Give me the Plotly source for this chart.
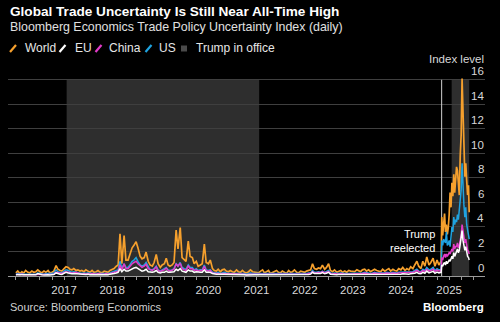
import pandas as pd
import plotly.graph_objects as go

# ---------------- data ----------------
# semi-monthly sampling (1st & 15th) Jan 2016 - Oct 2024, then weekly
semi_dates = list(pd.date_range("2016-01-01", "2024-10-15", freq="SMS"))
weekly_dates = ["2024-11-01", "2024-11-06", "2024-11-13", "2024-11-20", "2024-11-27",
                "2024-12-04", "2024-12-11", "2024-12-18", "2024-12-25",
                "2025-01-01", "2025-01-08", "2025-01-15", "2025-01-22", "2025-01-29",
                "2025-02-05", "2025-02-12", "2025-02-19", "2025-02-26",
                "2025-03-05", "2025-03-12", "2025-03-19", "2025-03-26",
                "2025-04-02", "2025-04-09", "2025-04-16", "2025-04-23", "2025-04-30",
                "2025-05-07", "2025-05-14", "2025-05-21", "2025-05-28", "2025-06-02"]
dates = semi_dates + list(pd.to_datetime(weekly_dates))

world = [
    0.25, 0.4, 0.2, 0.35, 0.25, 0.45, 0.3, 0.25, 0.4, 0.3, 0.35, 0.5, 0.35, 0.25, 0.4, 0.3, 0.45, 0.25, 0.3, 0.4, 0.85, 0.55, 0.45, 0.4,  # 2016
    0.6, 0.75, 0.7, 0.55, 0.5, 0.6, 0.45, 0.5, 0.4, 0.45, 0.35, 0.5, 0.4, 0.3, 0.45, 0.3, 0.35, 0.45, 0.3, 0.25, 0.4, 0.35, 0.3, 0.45,  # 2017
    0.5, 0.6, 0.8, 0.9, 3.45, 1.0, 3.3, 1.3, 1.3, 1.7, 2.3, 2.5, 2.8, 2.3, 1.6, 1.4, 1.5, 1.95, 1.2, 0.9, 0.8, 1.1, 1.75, 1.0,  # 2018
    0.7, 0.9, 1.0, 1.45, 0.9, 0.8, 0.9, 1.1, 3.75, 2.2, 3.95, 1.5, 1.3, 1.2, 2.85, 1.6, 1.5, 1.0, 1.2, 0.8, 0.9, 1.0, 2.6, 1.1,  # 2019
    1.0, 1.3, 0.6, 0.45, 0.4, 0.55, 0.35, 0.5, 0.55, 0.4, 0.35, 0.45, 0.35, 0.3, 0.5, 0.35, 0.3, 0.45, 0.3, 0.25, 0.35, 0.5, 0.35, 0.3,  # 2020
    0.3, 0.25, 0.4, 0.5, 0.25, 0.35, 0.45, 0.2, 0.3, 0.35, 0.45, 0.3, 0.25, 0.4, 0.3, 0.2, 0.45, 0.3, 0.35, 0.5, 0.3, 0.25, 0.4, 0.35,  # 2021
    0.3, 0.4, 0.45, 0.5, 1.0, 0.6, 0.55, 0.65, 0.6, 0.88, 0.55, 0.7, 1.0, 0.45, 0.35, 0.5, 0.3, 0.4, 0.45, 0.3, 0.4, 0.3, 0.45, 0.4,  # 2022
    0.4, 0.35, 0.5, 0.4, 0.35, 0.5, 0.55, 0.4, 0.5, 0.35, 0.45, 0.55, 0.45, 0.4, 0.35, 0.55, 0.4, 0.5, 0.6, 0.4, 0.55, 0.45, 0.4, 0.6,  # 2023
    0.5, 0.7, 0.45, 0.6, 0.5, 0.75, 0.6, 0.9, 1.2, 0.8, 0.6, 1.2, 0.8, 1.55, 0.9, 1.1, 1.45, 0.8, 1.3, 0.9,  # 2024 Jan-Oct
    1.2, 4.8, 3.3, 4.2, 5.1, 3.6, 4.2, 3.4, 3.9, 5.0, 6.8, 5.6, 7.6, 6.5, 8.3, 6.8,
    8.2, 8.9, 8.6, 7.0, 6.6, 9.8, 11.5, 16.1, 11.7, 10.8, 8.1, 9.2, 7.8, 6.6, 7.4, 5.2,  # weekly
]
us = [
    0.15, 0.2, 0.15, 0.2, 0.15, 0.15, 0.2, 0.15, 0.2, 0.2, 0.15, 0.25, 0.2, 0.15, 0.15, 0.2, 0.2, 0.15, 0.2, 0.25, 0.5, 0.35, 0.3, 0.25,
    0.4, 0.5, 0.45, 0.35, 0.3, 0.35, 0.3, 0.3, 0.25, 0.2, 0.25, 0.2, 0.25, 0.2, 0.2, 0.2, 0.2, 0.2, 0.2, 0.15, 0.2, 0.2, 0.2, 0.25,
    0.3, 0.35, 0.45, 0.5, 1.2, 0.6, 1.0, 0.7, 0.7, 0.9, 1.2, 1.3, 1.5, 1.2, 0.9, 0.8, 0.9, 1.1, 0.7, 0.5, 0.5, 0.6, 0.8, 0.5,
    0.4, 0.5, 0.55, 0.7, 0.5, 0.45, 0.5, 0.6, 1.0, 0.8, 1.1, 0.7, 0.6, 0.55, 0.9, 0.7, 0.7, 0.5, 0.6, 0.45, 0.5, 0.5, 0.9, 0.5,
    0.45, 0.5, 0.3, 0.25, 0.25, 0.3, 0.2, 0.25, 0.3, 0.25, 0.2, 0.2, 0.2, 0.2, 0.25, 0.2, 0.2, 0.2, 0.2, 0.15, 0.2, 0.25, 0.2, 0.2,
    0.2, 0.15, 0.2, 0.2, 0.15, 0.2, 0.2, 0.2, 0.15, 0.2, 0.2, 0.2, 0.15, 0.2, 0.2, 0.15, 0.2, 0.2, 0.2, 0.2, 0.2, 0.15, 0.2, 0.2,
    0.2, 0.2, 0.25, 0.25, 0.45, 0.3, 0.3, 0.35, 0.3, 0.4, 0.3, 0.35, 0.45, 0.25, 0.2, 0.25, 0.2, 0.2, 0.25, 0.2, 0.2, 0.2, 0.2, 0.25,
    0.25, 0.2, 0.25, 0.25, 0.2, 0.25, 0.3, 0.25, 0.25, 0.2, 0.25, 0.3, 0.25, 0.25, 0.2, 0.25, 0.25, 0.3, 0.25, 0.25, 0.3, 0.25, 0.25, 0.3,
    0.3, 0.35, 0.3, 0.3, 0.3, 0.35, 0.35, 0.45, 0.55, 0.4, 0.35, 0.55, 0.45, 0.7, 0.5, 0.55, 0.7, 0.45, 0.6, 0.5,
    0.5, 2.9, 2.5, 3.0, 2.8, 2.7, 3.6, 2.5, 2.6, 2.9, 2.4, 3.5, 4.0, 3.6, 4.8, 4.2,
    4.6, 4.4, 5.0, 4.6, 5.6, 6.2, 7.0, 9.2, 7.0, 5.8, 4.8, 5.6, 4.2, 3.7, 3.4, 3.0,
]
china = [
    0.1, 0.15, 0.1, 0.15, 0.1, 0.1, 0.15, 0.1, 0.15, 0.15, 0.1, 0.15, 0.15, 0.1, 0.1, 0.15, 0.15, 0.1, 0.15, 0.15, 0.3, 0.25, 0.2, 0.2,
    0.3, 0.35, 0.3, 0.25, 0.25, 0.25, 0.3, 0.25, 0.2, 0.15, 0.2, 0.15, 0.2, 0.15, 0.2, 0.15, 0.15, 0.2, 0.15, 0.15, 0.15, 0.2, 0.15, 0.2,
    0.25, 0.3, 0.35, 0.4, 0.9, 0.5, 1.0, 0.6, 0.6, 0.8, 1.0, 1.1, 1.2, 1.0, 0.8, 0.7, 0.8, 0.95, 0.6, 0.5, 0.45, 0.55, 0.75, 0.45,
    0.35, 0.45, 0.5, 0.65, 0.45, 0.4, 0.45, 0.55, 1.0, 0.8, 1.05, 0.6, 0.5, 0.45, 0.85, 0.6, 0.6, 0.45, 0.5, 0.4, 0.45, 0.45, 0.8, 0.45,
    0.4, 0.45, 0.25, 0.2, 0.2, 0.2, 0.15, 0.2, 0.2, 0.2, 0.15, 0.15, 0.15, 0.15, 0.2, 0.15, 0.15, 0.15, 0.15, 0.1, 0.15, 0.15, 0.15, 0.15,
    0.15, 0.1, 0.15, 0.15, 0.1, 0.15, 0.15, 0.15, 0.1, 0.15, 0.15, 0.15, 0.1, 0.15, 0.15, 0.1, 0.15, 0.15, 0.15, 0.15, 0.15, 0.1, 0.15, 0.15,
    0.15, 0.15, 0.2, 0.2, 0.35, 0.25, 0.25, 0.3, 0.25, 0.35, 0.25, 0.3, 0.35, 0.2, 0.15, 0.2, 0.15, 0.15, 0.2, 0.15, 0.15, 0.15, 0.15, 0.2,
    0.2, 0.15, 0.2, 0.2, 0.15, 0.2, 0.25, 0.2, 0.2, 0.15, 0.2, 0.25, 0.2, 0.2, 0.15, 0.2, 0.2, 0.25, 0.2, 0.2, 0.25, 0.2, 0.2, 0.25,
    0.25, 0.3, 0.25, 0.25, 0.25, 0.3, 0.3, 0.35, 0.45, 0.35, 0.3, 0.45, 0.35, 0.55, 0.4, 0.45, 0.55, 0.35, 0.5, 0.4,
    0.4, 1.5, 1.3, 1.6, 1.8, 1.5, 1.8, 1.6, 1.7, 1.9, 1.8, 2.0, 2.2, 2.0, 2.6, 2.2,
    2.4, 2.4, 2.7, 2.3, 2.5, 2.9, 3.3, 4.2, 3.6, 3.2, 2.7, 3.0, 2.4, 2.1, 2.0, 1.8,
]
eu = [
    0.1, 0.1, 0.08, 0.1, 0.1, 0.08, 0.1, 0.1, 0.1, 0.12, 0.1, 0.2, 0.12, 0.1, 0.08, 0.1, 0.1, 0.08, 0.1, 0.12, 0.25, 0.18, 0.15, 0.12,
    0.25, 0.3, 0.25, 0.2, 0.18, 0.2, 0.18, 0.18, 0.15, 0.12, 0.15, 0.12, 0.15, 0.1, 0.12, 0.1, 0.1, 0.12, 0.1, 0.1, 0.1, 0.12, 0.1, 0.15,
    0.15, 0.2, 0.25, 0.3, 0.6, 0.35, 0.55, 0.4, 0.4, 0.5, 0.6, 0.65, 0.7, 0.6, 0.45, 0.4, 0.45, 0.55, 0.35, 0.3, 0.3, 0.35, 0.45, 0.3,
    0.25, 0.3, 0.3, 0.4, 0.3, 0.3, 0.3, 0.35, 0.55, 0.45, 0.6, 0.4, 0.35, 0.3, 0.5, 0.4, 0.4, 0.3, 0.35, 0.3, 0.3, 0.3, 0.5, 0.3,
    0.3, 0.3, 0.2, 0.15, 0.15, 0.15, 0.12, 0.15, 0.15, 0.15, 0.12, 0.1, 0.12, 0.1, 0.15, 0.12, 0.1, 0.12, 0.1, 0.08, 0.1, 0.12, 0.1, 0.1,
    0.1, 0.08, 0.1, 0.1, 0.08, 0.1, 0.1, 0.1, 0.08, 0.1, 0.1, 0.1, 0.08, 0.1, 0.1, 0.08, 0.1, 0.1, 0.1, 0.1, 0.1, 0.08, 0.1, 0.1,
    0.1, 0.1, 0.12, 0.15, 0.3, 0.2, 0.18, 0.22, 0.2, 0.28, 0.18, 0.22, 0.3, 0.15, 0.12, 0.12, 0.1, 0.12, 0.12, 0.1, 0.1, 0.1, 0.1, 0.12,
    0.12, 0.1, 0.12, 0.12, 0.1, 0.12, 0.15, 0.12, 0.12, 0.1, 0.12, 0.15, 0.12, 0.12, 0.1, 0.12, 0.12, 0.15, 0.12, 0.12, 0.15, 0.12, 0.12, 0.15,
    0.15, 0.18, 0.15, 0.15, 0.15, 0.18, 0.18, 0.22, 0.3, 0.2, 0.18, 0.3, 0.22, 0.4, 0.25, 0.3, 0.38, 0.22, 0.32, 0.25,
    0.3, 0.9, 0.8, 1.0, 1.1, 0.9, 1.2, 1.0, 1.1, 1.3, 1.2, 1.5, 1.6, 1.4, 1.9, 1.6,
    1.8, 2.0, 2.2, 1.9, 2.1, 2.6, 3.0, 3.7, 2.9, 2.5, 2.1, 2.4, 1.9, 1.6, 1.5, 1.3,
]
for s in (world, us, china, eu):
    assert len(s) == len(dates), (len(s), len(dates))

trump_terms = [("2017-01-20", "2021-01-20"), ("2025-01-20", "2025-06-02")]
reelection_date = "2024-11-05"
year_ticks = ["2017", "2018", "2019", "2020", "2021", "2022", "2023", "2024", "2025"]
y_ticks = [0, 2, 4, 6, 8, 10, 12, 14, 16]
quarter_ticks = list(pd.date_range("2016-01-01", "2025-07-01", freq="QS"))

series_names = ["World", "EU", "China", "US"]
series_colors = ["#f6a02d", "#ffffff", "#e23bc8", "#1fa3e0"]

# ---------------- figure ----------------
W, H = 500, 322
L, R, T, B = 8, 15, 70, 46
PW, PH = W - L - R, H - T - B


def px_x(px):
    return (px - L) / PW


def px_y(py):
    return (H - B - py) / PH


BG = "#000000"
FONT = "Liberation Sans, Arial, sans-serif"

fig = go.Figure()
# draw order: World behind, then US, China, EU on top
draw_order = [("World", world, 1.7), ("US", us, 1.5), ("China", china, 1.5), ("EU", eu, 1.5)]
for name, vals, lw in draw_order:
    col = series_colors[series_names.index(name)]
    fig.add_trace(go.Scatter(x=dates, y=vals, mode="lines", name=name,
                             line=dict(color=col, width=lw), showlegend=False,
                             hoverinfo="skip"))

shapes = []
for a, b in trump_terms:
    shapes.append(dict(type="rect", xref="x", yref="y", x0=a, x1=b, y0=0, y1=16,
                       fillcolor="#2e2e2e", line=dict(width=0), layer="below"))
shapes.append(dict(type="line", xref="x", yref="y", x0=reelection_date, x1=reelection_date,
                   y0=0, y1=16, line=dict(color="#d0d0d0", width=1), layer="between"))

# legend icons (slashes) and square
legend_icon_x = [10, 59.5, 95.5, 145.5]
legend_text_x = [22.5, 72.5, 107, 157]
annotations = []
for nm, col, ix, tx in zip(series_names, series_colors, legend_icon_x, legend_text_x):
    shapes.append(dict(type="line", xref="paper", yref="paper",
                       x0=px_x(ix), x1=px_x(ix + 6), y0=px_y(52), y1=px_y(45),
                       line=dict(color=col, width=2.2)))
    annotations.append(dict(xref="paper", yref="paper", x=px_x(tx), y=px_y(48),
                            xanchor="left", yanchor="middle", text=nm, showarrow=False,
                            font=dict(family=FONT, size=12, color="#e6e6e6")))
shapes.append(dict(type="rect", xref="paper", yref="paper",
                   x0=px_x(181), x1=px_x(187), y0=px_y(51.5), y1=px_y(45.5),
                   fillcolor="#4a4a4a", line=dict(width=0)))
annotations.append(dict(xref="paper", yref="paper", x=px_x(194), y=px_y(48),
                        xanchor="left", yanchor="middle", text="Trump in office", showarrow=False,
                        font=dict(family=FONT, size=12, color="#e6e6e6")))

# titles
annotations.append(dict(xref="paper", yref="paper", x=px_x(8), y=px_y(12),
                        xanchor="left", yanchor="middle", showarrow=False,
                        text="<b>Global Trade Uncertainty Is Still Near All-Time High</b>",
                        font=dict(family=FONT, size=13.6, color="#ffffff")))
annotations.append(dict(xref="paper", yref="paper", x=px_x(8), y=px_y(27),
                        xanchor="left", yanchor="middle", showarrow=False,
                        text="Bloomberg Economics Trade Policy Uncertainty Index (daily)",
                        font=dict(family=FONT, size=12.4, color="#e0e0e0")))
# y labels above gridlines
annotations.append(dict(xref="paper", yref="paper", x=px_x(486), y=px_y(59),
                        xanchor="right", yanchor="middle", showarrow=False, text="Index level",
                        font=dict(family=FONT, size=11.5, color="#d8d8d8")))
for v in y_ticks:
    annotations.append(dict(xref="paper", yref="y", x=px_x(486), y=v, yshift=8.5,
                            xanchor="right", yanchor="middle", showarrow=False, text=str(v),
                            font=dict(family=FONT, size=11.5, color="#d8d8d8")))
# reelection note
annotations.append(dict(xref="paper", yref="paper", x=px_x(437), y=px_y(241),
                        xanchor="right", yanchor="middle", showarrow=False, align="right",
                        text="Trump<br>reelected",
                        font=dict(family=FONT, size=11, color="#ffffff")))
# footer
annotations.append(dict(xref="paper", yref="paper", x=px_x(8), y=px_y(307),
                        xanchor="left", yanchor="middle", showarrow=False,
                        text="Source: Bloomberg Economics",
                        font=dict(family=FONT, size=11, color="#d0d0d0")))
annotations.append(dict(xref="paper", yref="paper", x=px_x(486), y=px_y(307),
                        xanchor="right", yanchor="middle", showarrow=False,
                        text="<b>Bloomberg</b>",
                        font=dict(family=FONT, size=11.5, color="#ffffff")))

fig.update_layout(
    width=W, height=H, autosize=False,
    margin=dict(l=L, r=R, t=T, b=B, pad=0),
    paper_bgcolor=BG, plot_bgcolor=BG,
    showlegend=False,
    shapes=shapes, annotations=annotations,
    xaxis=dict(type="date", range=["2015-11-02", "2025-09-30"],
               tickmode="array", tickvals=[f"{y}-01-01" for y in year_ticks], ticktext=year_ticks,
               ticks="outside", ticklen=3, tickcolor="#9a9a9a", tickwidth=1,
               showline=True, linecolor="#9a9a9a", linewidth=1,
               showgrid=False, zeroline=False,
               tickfont=dict(family=FONT, size=11.5, color="#d8d8d8"),
               minor=dict(tickmode="array", tickvals=quarter_ticks, ticks="outside",
                          ticklen=3, tickcolor="#9a9a9a", showgrid=False),
               fixedrange=True),
    yaxis=dict(range=[0, 16.8], tickmode="array", tickvals=y_ticks[1:],
               showticklabels=False, showgrid=True, gridcolor="#3f3f3f", gridwidth=1,
               zeroline=False, showline=False, ticks="", fixedrange=True),
)

fig.write_html("out.html")
